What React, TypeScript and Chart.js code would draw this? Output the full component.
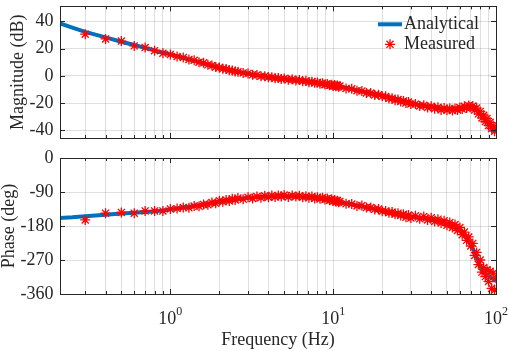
import React, { useEffect, useRef } from 'react';
import { Chart, registerables } from 'chart.js';

Chart.register(...registerables);

// ---------- data ----------
const AN_FREQ = [
  0.21, 0.25, 0.3, 0.4, 0.5, 0.6, 0.7, 0.8, 0.9, 1,
  1.2, 1.5, 2, 2.5, 3, 3.5, 4, 5, 6, 7,
  8, 9, 10, 12, 15, 20, 25, 30, 35, 40,
  45, 50, 55, 60, 65, 70, 74, 78, 82, 86,
  90, 95, 100,
];
const AN_MAG = [
  38.5, 35.4, 32.3, 28.2, 25.0, 22.6, 20.5, 18.7, 17.1, 15.8,
  13.2, 10.0, 6.0, 3.5, 1.6, 0.2, -0.8, -2.2, -3.2, -4.2,
  -5.1, -6.1, -7.0, -8.8, -11.2, -14.3, -17.4, -20.0, -21.6, -22.8,
  -23.7, -24.3, -24.4, -23.8, -23.0, -22.6, -23.4, -25.8, -29.0, -32.2,
  -35.0, -37.8, -40.0,
];
const AN_PHASE = [
  -159, -157, -154, -150, -147, -145, -143, -141, -139, -136,
  -131, -125, -115, -109, -105, -103, -102, -101, -101, -103,
  -106, -109, -113, -120, -128, -140, -150, -156, -159, -162,
  -167, -174, -182, -193, -207, -228, -250, -274, -294, -305,
  -312, -319, -326,
];

const MEAS_FREQ = [
  0.3, 0.4, 0.5, 0.6, 0.7, 0.8, 0.9, 1.0, 1.1, 1.2,
  1.3, 1.4, 1.5, 1.6, 1.7, 1.8, 1.9, 2.0, 2.1, 2.2,
  2.3, 2.4, 2.5, 2.6, 2.8, 3.0, 3.2, 3.4, 3.6, 3.8,
  4.0, 4.2, 4.4, 4.6, 4.8, 5.0, 5.3, 5.6, 5.9, 6.2,
  6.5, 6.8, 7.1, 7.4, 7.7, 8.0, 8.3, 8.6, 8.9, 9.2,
  9.5, 9.8, 10.0, 10.2, 10.4, 10.6, 10.8, 11, 12, 13,
  14, 15, 16, 17, 18, 19, 20, 21, 22, 23,
  24, 25, 26, 27, 28, 29, 30, 32, 34, 36,
  38, 40, 42, 44, 46, 48, 50, 52, 54, 56,
  58, 60, 62, 64, 66, 68, 70, 72, 74, 76,
  78, 80, 82, 84, 86, 88, 90, 92, 94, 96,
  98, 100,
];
const MEAS_MAG = [
  30.6, 27.1, 25.5, 22.0, 20.8, 18.5, 16.6, 15.7, 14.2, 13.5,
  12.0, 11.4, 10.0, 9.6, 8.1, 7.6, 6.5, 6.2, 5.2, 5.0,
  4.2, 3.9, 3.2, 3.0, 2.1, 1.8, 0.8, 0.7, -0.3, -0.2,
  -1.0, -0.9, -1.7, -1.5, -2.3, -1.9, -2.8, -2.5, -3.3, -3.0,
  -3.9, -3.6, -4.6, -4.2, -5.1, -4.8, -5.7, -5.3, -6.3, -5.9,
  -6.9, -6.4, -7.4, -6.7, -7.6, -7.0, -8.0, -7.4, -9.2, -9.5,
  -10.9, -11.0, -12.5, -12.6, -14.0, -13.8, -15.0, -15.0, -16.5, -16.3,
  -17.8, -17.2, -18.8, -18.3, -19.9, -19.1, -20.6, -20.6, -22.0, -21.5,
  -23.2, -22.2, -24.0, -23.0, -24.9, -23.6, -25.2, -23.8, -25.3, -23.9,
  -25.0, -23.2, -24.3, -22.3, -23.5, -21.7, -23.2, -22.0, -25.0, -23.6,
  -27.8, -26.0, -30.8, -28.8, -33.5, -31.2, -36.3, -34.0, -38.6, -36.4,
  -40.5, -38.5,
];
const MEAS_PHASE = [
  -164, -146, -144, -146, -140, -140, -140, -135, -134, -131,
  -132, -127, -128, -123, -124, -118, -120, -113, -116, -111,
  -114, -108, -111, -106, -109, -104, -107, -102, -105, -100,
  -104, -99, -103, -99, -102, -98, -103, -99, -102, -100,
  -104, -101, -105, -102, -107, -104, -108, -105, -110, -107,
  -112, -109, -114, -111, -116, -113, -117, -115, -121, -122,
  -127, -126, -131, -131, -136, -135, -141, -140, -145, -143,
  -149, -146, -152, -149, -157, -151, -159, -153, -161, -155,
  -164, -158, -168, -162, -172, -166, -178, -171, -184, -176,
  -192, -184, -203, -196, -218, -209, -233, -226, -258, -250,
  -282, -270, -302, -290, -314, -296, -327, -300, -345, -305,
  -350, -318,
];

const MAG_TICKS = [-40, -20, 0, 20, 40];
const PHASE_TICKS = [-360, -270, -180, -90, 0];
const X_MIN = 0.21;
const X_MAX = 100;
const MAG_RANGE = [-45.5, 51];
const PHASE_RANGE = [-360, 0];

const LABEL_AN = 'Analytical';
const LABEL_MEAS = 'Measured';
const TITLE_MAG = 'Magnitude (dB)';
const TITLE_PHASE = 'Phase (deg)';
const TITLE_X = 'Frequency (Hz)';

// ---------- style ----------
const W = 509;
const H = 351;
const FONT = "'Liberation Serif', 'Times New Roman', serif";
const TXT = '#262626';
const GRID = 'rgba(38,38,38,0.15)';
const BLUE = '#0072bd';
const RED = '#ff0000';

function logTicks(min: number, max: number) {
  const out: { value: number; major: boolean }[] = [];
  for (let e = -2; e <= 3; e++) {
    for (let m = 1; m <= 9; m++) {
      const v = m * Math.pow(10, e);
      if (v >= min - 1e-9 && v <= max + 1e-9) out.push({ value: v, major: m === 1 });
    }
  }
  return out;
}

function makePlugin(showXLabels: boolean, showLegend: boolean) {
  return {
    id: 'matlabAxes',
    afterDraw(chart: any) {
      const { ctx, chartArea: a, scales } = chart;
      const xs = scales.x;
      const ys = scales.y;
      ctx.save();
      ctx.strokeStyle = TXT;
      ctx.lineWidth = 1;
      ctx.beginPath();
      xs.ticks.forEach((t: any) => {
        const px = Math.round(xs.getPixelForValue(t.value)) + 0.5;
        const len = t.major ? 5 : 3;
        ctx.moveTo(px, a.bottom);
        ctx.lineTo(px, a.bottom - len);
        ctx.moveTo(px, a.top);
        ctx.lineTo(px, a.top + len);
      });
      ys.ticks.forEach((t: any) => {
        const py = Math.round(ys.getPixelForValue(t.value)) + 0.5;
        ctx.moveTo(a.left, py);
        ctx.lineTo(a.left + 5, py);
        ctx.moveTo(a.right, py);
        ctx.lineTo(a.right - 5, py);
      });
      ctx.stroke();
      ctx.strokeRect(Math.round(a.left) + 0.5, Math.round(a.top) + 0.5, Math.round(a.width), Math.round(a.height));

      ctx.fillStyle = TXT;
      if (showXLabels) {
        xs.ticks.forEach((t: any) => {
          if (!t.major) return;
          const px = xs.getPixelForValue(t.value);
          const base = '10';
          const exp = String(Math.round(Math.log10(t.value)));
          ctx.font = `18px ${FONT}`;
          const wb = ctx.measureText(base).width;
          ctx.font = `12px ${FONT}`;
          const we = ctx.measureText(exp).width;
          const x0 = px - (wb + we) / 2;
          ctx.textAlign = 'left';
          ctx.textBaseline = 'alphabetic';
          ctx.font = `18px ${FONT}`;
          ctx.fillText(base, x0, a.bottom + 29.5);
          ctx.font = `12px ${FONT}`;
          ctx.fillText(exp, x0 + wb, a.bottom + 21);
        });
      }
      if (showLegend) {
        const lx = a.right - 118;
        const ly1 = a.top + 18;
        const ly2 = a.top + 38;
        ctx.strokeStyle = BLUE;
        ctx.lineWidth = 4;
        ctx.beginPath();
        ctx.moveTo(lx, ly1);
        ctx.lineTo(lx + 24, ly1);
        ctx.stroke();
        ctx.strokeStyle = RED;
        ctx.lineWidth = 1.3;
        const cx = lx + 12;
        const r = 5;
        ctx.beginPath();
        for (let k = 0; k < 4; k++) {
          const ang = (k * Math.PI) / 4;
          ctx.moveTo(cx + r * Math.cos(ang), ly2 + r * Math.sin(ang));
          ctx.lineTo(cx - r * Math.cos(ang), ly2 - r * Math.sin(ang));
        }
        ctx.stroke();
        ctx.fillStyle = TXT;
        ctx.font = `18px ${FONT}`;
        ctx.textAlign = 'left';
        ctx.textBaseline = 'middle';
        ctx.fillText(LABEL_AN, lx + 26, ly1);
        ctx.fillText(LABEL_MEAS, lx + 26, ly2);
      }
      ctx.restore();
    },
  };
}

function makeConfig(kind: 'mag' | 'phase'): any {
  const isMag = kind === 'mag';
  const measY = isMag ? MEAS_MAG : MEAS_PHASE;
  const anY = isMag ? AN_MAG : AN_PHASE;
  const yTicks = isMag ? MAG_TICKS : PHASE_TICKS;
  const range = isMag ? MAG_RANGE : PHASE_RANGE;
  const top = isMag ? 2 : 158;
  const bottom = isMag ? 138 : 294;
  return {
    type: 'scatter',
    data: {
      datasets: [
        {
          label: LABEL_MEAS,
          data: MEAS_FREQ.map((f, i) => ({ x: f, y: measY[i] })),
          showLine: false,
          pointStyle: 'star',
          pointRadius: 5,
          pointBorderWidth: 1.3,
          pointBorderColor: RED,
          pointBackgroundColor: RED,
          order: 0,
        },
        {
          label: LABEL_AN,
          data: AN_FREQ.map((f, i) => ({ x: f, y: anY[i] })),
          showLine: true,
          borderColor: BLUE,
          backgroundColor: BLUE,
          borderWidth: 4,
          pointRadius: 0,
          tension: 0,
          order: 1,
        },
      ],
    },
    options: {
      responsive: false,
      animation: false,
      devicePixelRatio: 1,
      events: [],
      layout: { padding: { top, right: W - 496, bottom: 0, left: 0 } },
      plugins: { legend: { display: false }, tooltip: { enabled: false }, title: { display: false } },
      scales: {
        x: {
          type: 'logarithmic',
          position: 'bottom',
          min: X_MIN,
          max: X_MAX,
          afterBuildTicks: (s: any) => {
            s.ticks = logTicks(X_MIN, X_MAX);
          },
          afterFit: (s: any) => {
            s.height = H - bottom;
            s.paddingLeft = 0;
            s.paddingRight = 0;
          },
          ticks: { display: false },
          grid: { color: GRID, lineWidth: 1, drawTicks: false },
          border: { display: false },
          title: isMag
            ? { display: false }
            : {
                display: true,
                text: TITLE_X,
                color: TXT,
                font: { family: FONT, size: 18 },
                padding: { top: 0, bottom: 0 },
              },
        },
        y: {
          type: 'linear',
          position: 'left',
          min: range[0],
          max: range[1],
          afterBuildTicks: (s: any) => {
            s.ticks = yTicks.map((v) => ({ value: v }));
          },
          afterFit: (s: any) => {
            s.width = 60;
            s.paddingTop = 0;
            s.paddingBottom = 0;
          },
          ticks: {
            color: TXT,
            font: { family: FONT, size: 18 },
            padding: 6.5,
            callback: (v: any) => String(v),
          },
          grid: { color: GRID, lineWidth: 1, drawTicks: false },
          border: { display: false },
          title: {
            display: true,
            text: isMag ? TITLE_MAG : TITLE_PHASE,
            color: TXT,
            font: { family: FONT, size: 18 },
            padding: { top: isMag ? 7 : -1.5, bottom: 0 },
          },
        },
      },
    },
    plugins: [makePlugin(!isMag, isMag)],
  };
}

export default function App() {
  const topRef = useRef<HTMLCanvasElement>(null);
  const botRef = useRef<HTMLCanvasElement>(null);
  useEffect(() => {
    const c1 = new Chart(topRef.current as HTMLCanvasElement, makeConfig('mag'));
    const c2 = new Chart(botRef.current as HTMLCanvasElement, makeConfig('phase'));
    return () => {
      c1.destroy();
      c2.destroy();
    };
  }, []);
  const cs: React.CSSProperties = { position: 'absolute', left: 0, top: 0, width: W, height: H };
  return (
    <div style={{ position: 'absolute', left: 0, top: 0, width: W, height: H, background: '#fff' }}>
      <canvas ref={topRef} width={W} height={H} style={cs} />
      <canvas ref={botRef} width={W} height={H} style={cs} />
    </div>
  );
}
